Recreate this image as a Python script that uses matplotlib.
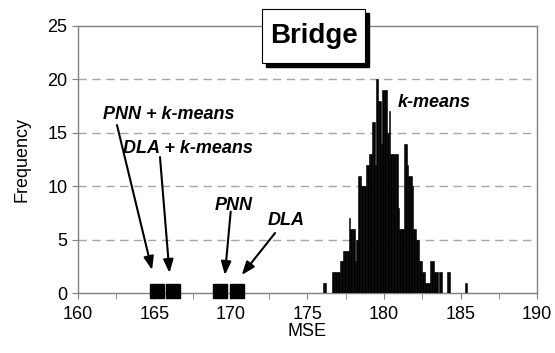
import matplotlib.pyplot as plt
from matplotlib.patches import Rectangle

plt.rcParams['font.family'] = ['Liberation Sans', 'DejaVu Sans']

# k-means histogram, bin left edge (MSE) and count
mse_bins = [176.0, 176.1,
            176.6, 176.7, 176.8, 176.9, 177.0, 177.1, 177.2, 177.3, 177.4, 177.5,
            177.6, 177.7, 177.8, 177.9, 178.0, 178.1, 178.2, 178.3, 178.4, 178.5,
            178.6, 178.7, 178.8, 178.9, 179.0, 179.1, 179.2, 179.3, 179.4, 179.5,
            179.6, 179.7, 179.8, 179.9, 180.0, 180.1, 180.2, 180.3, 180.4, 180.5,
            180.6, 180.7, 180.8, 180.9, 181.0, 181.1, 181.2, 181.3, 181.4, 181.5,
            181.6, 181.7, 181.8, 181.9, 182.0, 182.1, 182.2, 182.3, 182.4, 182.5,
            182.6, 182.7, 182.8, 182.9, 183.0, 183.1, 183.2, 183.3, 183.4,
            183.6, 183.7, 184.1, 184.2, 185.3]
freq = [1, 1,
        2, 2, 2, 2, 2, 3, 3, 4, 4, 4,
        4, 7, 6, 6, 6, 3, 5, 11, 11, 10,
        10, 10, 12, 12, 13, 13, 16, 16, 12, 20,
        18, 18, 14, 19, 19, 19, 15, 17, 13, 13,
        13, 13, 13, 8, 6, 6, 6, 14, 14, 12,
        11, 11, 10, 6, 6, 5, 5, 3, 3, 2,
        2, 1, 1, 1, 3, 3, 3, 2, 2,
        2, 2, 2, 2, 1]

# single results of the other methods
method_mse = [165.16, 166.2, 169.28, 170.39]

fig = plt.figure(figsize=(5.55, 3.53), dpi=100)
ax = fig.add_axes([0.1405, 0.169, 0.8271, 0.7576])

ax.bar(mse_bins, freq, width=0.1, align='edge', color='black', edgecolor='black',
       linewidth=0.4, zorder=3)
ax.plot(method_mse, [0.2] * len(method_mse), 's', color='black', markersize=9.5,
        clip_on=False, zorder=4)

ax.set_xlim(160, 190)
ax.set_ylim(0, 25)
ax.set_xticks(range(160, 191, 5))
ax.set_xticks([160 + 2.5 * i for i in range(13)], minor=True)
ax.set_yticks(range(0, 26, 5))
ax.tick_params(axis='both', which='both', direction='out', length=4, color='#808080',
               labelsize=13)
ax.tick_params(axis='x', pad=5)
for s in ax.spines.values():
    s.set_color('#808080')
    s.set_linewidth(1)
for v in [5, 10, 15, 20]:
    ax.axhline(v, color='#a6a6a6', linestyle=(0, (6, 4)), linewidth=1, zorder=1)

ax.set_xlabel('MSE', fontsize=13, labelpad=0)
ax.set_ylabel('Frequency', fontsize=13, labelpad=12)

lab = dict(fontsize=13, fontweight='bold', fontstyle='italic', ha='center', va='center')
ax.text(165.9, 16.76, 'PNN + k-means', **lab)
ax.text(167.2, 13.58, 'DLA + k-means', **lab)
ax.text(170.2, 8.25, 'PNN', **lab)
ax.text(173.6, 6.85, 'DLA', **lab)
ax.text(183.3, 17.88, 'k-means', **lab)

arr = dict(arrowstyle='-|>,head_length=0.8,head_width=0.3', color='black', lw=1.5,
           shrinkA=0, shrinkB=0)
ax.annotate('', xy=(164.84, 2.18), xytext=(162.55, 15.73), arrowprops=arr)
ax.annotate('', xy=(165.98, 1.9), xytext=(165.36, 12.74), arrowprops=arr)
ax.annotate('', xy=(169.6, 1.71), xytext=(169.98, 7.63), arrowprops=arr)
ax.annotate('', xy=(170.7, 1.71), xytext=(172.88, 5.64), arrowprops=arr)

# title box with shadow
W, H = 555, 353
bx, by, bw, bh = 262, 353 - 63, 103, 54
fig.patches.append(Rectangle(((bx + 4) / W, (by - 4) / H), bw / W, bh / H,
                             transform=fig.transFigure, color='black', zorder=5))
fig.patches.append(Rectangle((bx / W, by / H), bw / W, bh / H, transform=fig.transFigure,
                             facecolor='white', edgecolor='black', lw=0.8, zorder=6))
fig.text((bx + bw / 2) / W, (by + bh / 2) / H, 'Bridge', fontsize=20, fontweight='bold',
         ha='center', va='center', zorder=7)

fig.savefig('out.png', dpi=100)
